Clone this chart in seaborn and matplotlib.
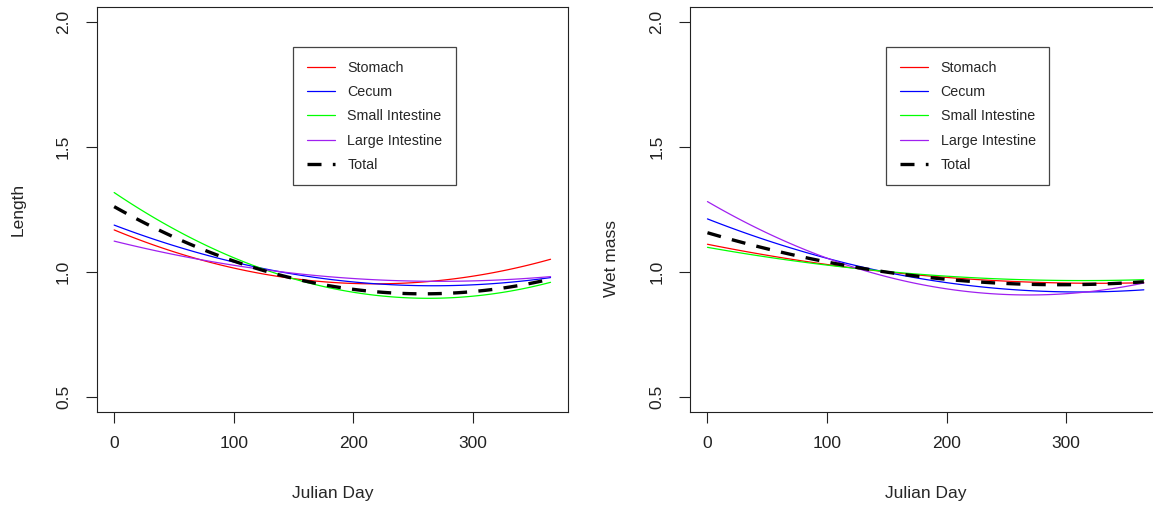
import numpy as np
import pandas as pd
import seaborn as sns
import matplotlib.pyplot as plt

# values at these days
days = [0, 50, 100, 125, 190, 255, 310, 365]

names = ["Stomach", "Cecum", "Small Intestine", "Large Intestine"]
colors = ["#FF0000", "#0000FF", "#00FF00", "#A020F0"]

# left panel: Length
len_stomach = [1.157, 1.101, 1.017, 0.983, 0.955, 0.955, 0.995, 1.051]
len_cecum = [1.179, 1.121, 1.039, 1.010, 0.961, 0.944, 0.955, 0.977]
len_small = [1.310, 1.181, 1.061, 1.015, 0.917, 0.895, 0.908, 0.961]
len_large = [1.117, 1.075, 1.035, 1.010, 0.971, 0.961, 0.964, 0.985]
len_total = [1.257, 1.148, 1.041, 1.008, 0.931, 0.915, 0.928, 0.971]

# right panel: Wet mass
wet_stomach = [1.105, 1.073, 1.037, 1.012, 0.977, 0.961, 0.955, 0.959]
wet_cecum = [1.201, 1.140, 1.065, 1.020, 0.955, 0.928, 0.921, 0.931]
wet_small = [1.091, 1.068, 1.035, 1.012, 0.981, 0.968, 0.965, 0.972]
wet_large = [1.275, 1.160, 1.065, 1.015, 0.935, 0.905, 0.915, 0.960]
wet_total = [1.148, 1.107, 1.045, 1.012, 0.968, 0.955, 0.951, 0.961]

xticks = [0, 100, 200, 300]
yticks = [0.5, 1.0, 1.5, 2.0]

sns.set_theme(style="ticks")
plt.rcParams['font.family'] = ['Liberation Sans', 'DejaVu Sans']

W, H = 1153, 505
fig = plt.figure(figsize=(W / 100, H / 100), dpi=100)
ax1 = fig.add_axes([96.7 / W, 93 / H, 471.3 / W, 405 / H])
ax2 = fig.add_axes([690 / W, 93 / H, 471.3 / W, 405 / H])


def draw_panel(ax, series, total, ylabel, ylabel_y):
    for name, vals, col in zip(names, series, colors):
        sns.regplot(x=days, y=vals, order=2, ci=None, scatter=False, ax=ax,
                    color=col, label=name, line_kws=dict(lw=0.9))
    sns.regplot(x=days, y=total, order=2, ci=None, scatter=False, ax=ax,
                color="black", label="Total",
                line_kws=dict(lw=2.4, ls=(0, (4.2, 3.4))))

    ax.set_xlim(-14.6, 379.6)
    ax.set_ylim(0.44, 2.06)
    ax.set_xticks(xticks)
    ax.set_yticks(yticks)
    ax.set_yticklabels([f"{v:.1f}" for v in yticks], rotation=90, va="center")
    ax.tick_params(direction="out", length=8, width=0.8, labelsize=12.5,
                   bottom=True, left=True, colors="#222222")
    ax.tick_params(axis="x", pad=9.5)
    ax.tick_params(axis="y", pad=10.5)
    for s in ax.spines.values():
        s.set_visible(True)
        s.set_color("#222222")
        s.set_linewidth(0.8)

    ax.set_xlabel("Julian Day", fontsize=12.5)
    ax.set_ylabel(ylabel, fontsize=12.5)
    ax.xaxis.set_label_coords(0.5, -0.182)
    ax.yaxis.set_label_coords(-0.15, ylabel_y)

    handles = ax.get_lines()
    leg = ax.legend(handles, names + ["Total"],
                    loc="upper left", bbox_to_anchor=(0.4165, 0.901),
                    borderaxespad=0, frameon=True, fancybox=False,
                    edgecolor="#444444", framealpha=1, fontsize=10.3,
                    handlelength=2.0, handletextpad=0.85,
                    labelspacing=0.72, borderpad=0.95)
    leg.get_frame().set_linewidth(0.9)


draw_panel(ax1, [len_stomach, len_cecum, len_small, len_large], len_total,
           "Length", 0.5)
draw_panel(ax2, [wet_stomach, wet_cecum, wet_small, wet_large], wet_total,
           "Wet mass", 0.38)

fig.savefig("out.png", dpi=100)
